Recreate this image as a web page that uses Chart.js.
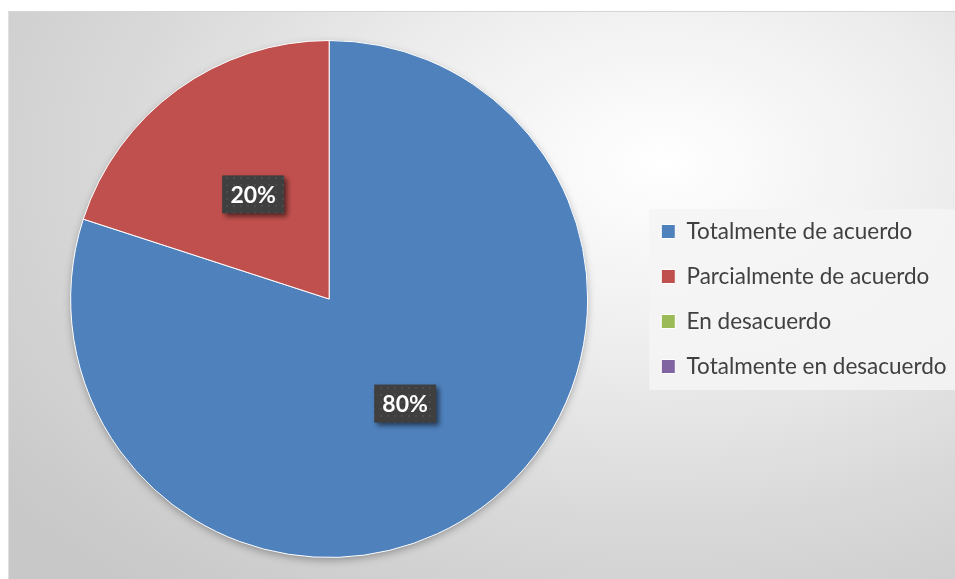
<!DOCTYPE html>
<html>
<head>
<meta charset="utf-8">
<script src="https://cdn.jsdelivr.net/npm/chart.js@4.4.1/dist/chart.umd.min.js"></script>
<style>
  html, body { margin: 0; padding: 0; background: #fff; overflow: hidden; }
  #frame {
    position: absolute; left: 8px; top: 11px; width: 960px; height: 580px;
    border-top: 1px solid #d4d4d4; border-left: 1px solid #e0e0e0;
    background: radial-gradient(ellipse farthest-corner at 68% 26%, #ffffff 0%, #eeeeee 30%, #d8d8d8 60%, #c8c8c8 90%);
  }
  #wrap { position: absolute; left: 0; top: 0; width: 1000px; height: 579px; }
</style>
</head>
<body>
<div id="frame"></div>
<div id="wrap"><canvas id="myChart"></canvas></div>
<script>
const categories = ['Totalmente de acuerdo', 'Parcialmente de acuerdo', 'En desacuerdo', 'Totalmente en desacuerdo'];
const values = [80, 20, 0, 0];
const colors = ['#4F81BD', '#C0504D', '#9BBB59', '#8064A2'];

// dotted dark texture for the value labels
const pat = document.createElement('canvas');
pat.width = 7; pat.height = 7;
const pc = pat.getContext('2d');
pc.fillStyle = '#3f3f3f';
pc.fillRect(0, 0, 7, 7);
pc.fillStyle = '#4c4c4c';
pc.fillRect(2, 2, 2, 2);

const bgPlugin = {
  id: 'bgStuff',
  beforeDatasetsDraw(chart) {
    const ctx = chart.ctx;
    const arc = chart.getDatasetMeta(0).data[0];
    // soft shadow under the pie
    ctx.save();
    ctx.shadowColor = 'rgba(0,0,0,0.35)';
    ctx.shadowBlur = 8;
    ctx.shadowOffsetY = 3;
    ctx.fillStyle = '#999';
    ctx.beginPath();
    ctx.arc(arc.x, arc.y, arc.outerRadius - 1, 0, Math.PI * 2);
    ctx.fill();
    ctx.restore();
  },
  beforeDraw(chart) {
    // legend panel
    const boxes = chart.legend.legendHitBoxes;
    if (!boxes || !boxes.length) return;
    const ctx = chart.ctx;
    const first = boxes[0];
    ctx.save();
    ctx.fillStyle = 'rgba(244,244,244,0.85)';
    ctx.fillRect(first.left - 12, 209, chart.width, 181);
    ctx.restore();
  },
  afterDatasetsDraw(chart) {
    const ctx = chart.ctx;
    const data = chart.data.datasets[0].data;
    const total = data.reduce((a, b) => a + b, 0);
    chart.getDatasetMeta(0).data.forEach((arc, i) => {
      if (!data[i]) return;
      const p = arc.tooltipPosition();
      const w = 62, h = 38;
      ctx.save();
      ctx.shadowColor = 'rgba(0,0,0,0.55)';
      ctx.shadowBlur = 5;
      ctx.shadowOffsetX = 3;
      ctx.shadowOffsetY = 3;
      ctx.fillStyle = ctx.createPattern(pat, 'repeat');
      ctx.fillRect(p.x - w / 2, p.y - h / 2, w, h);
      ctx.restore();
      ctx.save();
      ctx.fillStyle = '#ffffff';
      ctx.font = 'bold 23px Lato';
      ctx.textAlign = 'center';
      ctx.textBaseline = 'middle';
      ctx.fillText(Math.round(data[i] / total * 100) + '%', p.x, p.y + 1);
      ctx.restore();
    });
  }
};

new Chart('myChart', {
  type: 'pie',
  data: {
    labels: categories,
    datasets: [{
      data: values,
      backgroundColor: colors,
      borderColor: '#ffffff',
      borderWidth: 1
    }]
  },
  options: {
    responsive: true,
    maintainAspectRatio: false,
    animation: false,
    layout: { padding: { left: 19.5, right: 43.5, top: 40, bottom: 21 } },
    plugins: {
      legend: {
        position: 'right',
        labels: {
          boxWidth: 14,
          boxHeight: 14,
          padding: 22.5,
          color: '#404040',
          font: { family: 'Lato', size: 22.5 }
        }
      },
      tooltip: { enabled: false }
    }
  },
  plugins: [bgPlugin]
});
</script>
</body>
</html>
